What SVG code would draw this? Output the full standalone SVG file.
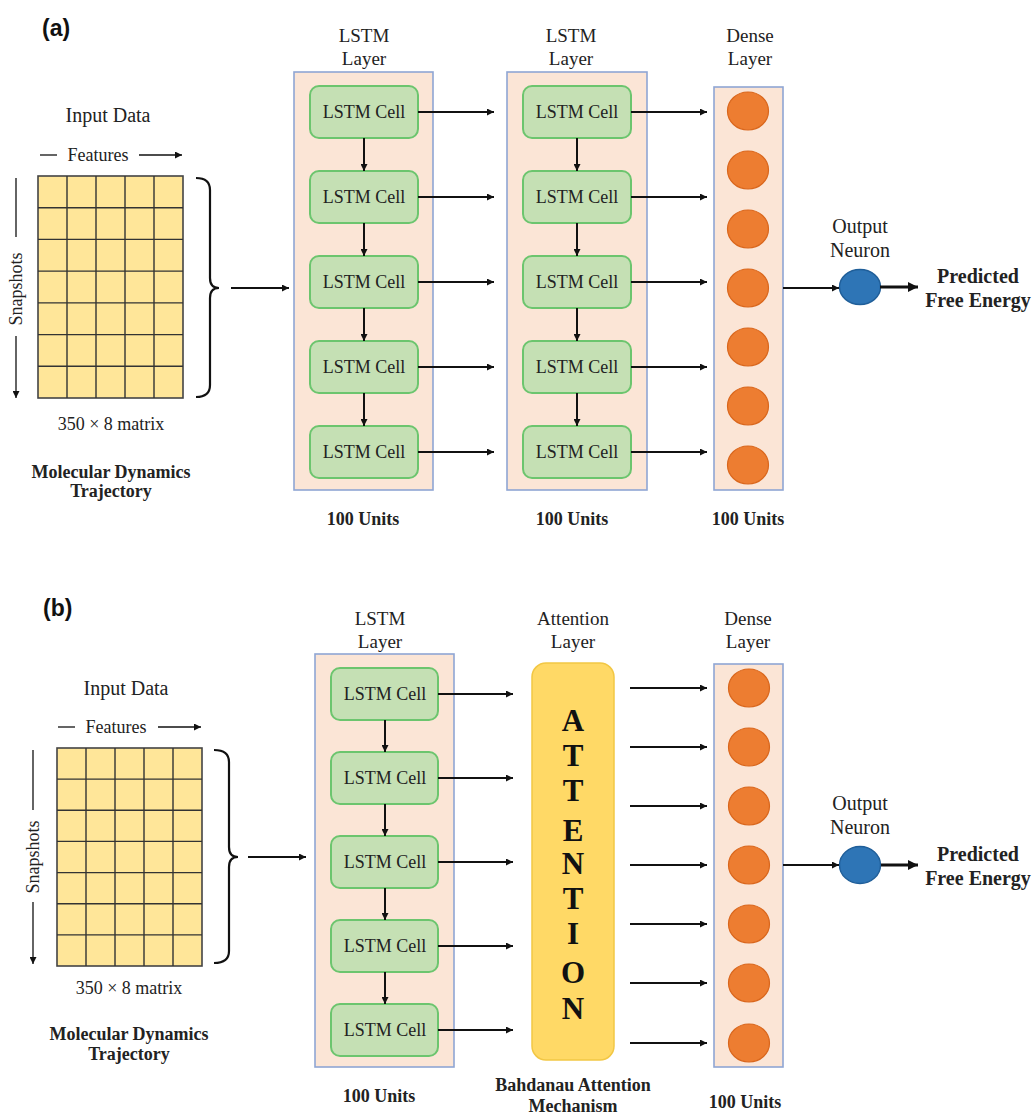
<svg xmlns="http://www.w3.org/2000/svg" width="1033" height="1119" viewBox="0 0 1033 1119">
<style>
.t{font-family:"Liberation Serif","Times New Roman",serif;fill:#222;text-anchor:middle}
.r{font-size:19px}
.r2{font-size:20px}
.b{font-size:18px;font-weight:bold}
.p{font-size:20px;font-weight:bold}
.c{font-size:18px;fill:#222}
.lbl{font-family:"Liberation Sans",Arial,sans-serif;font-size:23px;font-weight:bold;fill:#111}
.layer{fill:#FBE5D6;stroke:#8FA6D4;stroke-width:1.6}
.cell{fill:#C5E0B4;stroke:#6CC56E;stroke-width:2}
.mat{fill:#FFE699;stroke:#444;stroke-width:1.6}
.grid{stroke:#333;stroke-width:1.4}
.neu{fill:#ED7D31;stroke:#D9661C;stroke-width:1.2}
.out{fill:#2E75B6;stroke:#1F5E99;stroke-width:1.4}
.att{fill:#FFD966;stroke:#F2C744;stroke-width:1.5}
.ln{stroke:#111;stroke-width:2;fill:none}
.th{stroke:#111;stroke-width:3;fill:none}
.br{stroke:#111;stroke-width:2.2;fill:none}
.al{font-family:"Liberation Serif","Times New Roman",serif;font-size:31px;font-weight:bold;fill:#111;text-anchor:middle}
</style>
<defs>
<marker id="ah" viewBox="0 0 10 10" refX="10" refY="5" markerWidth="8" markerHeight="7" markerUnits="userSpaceOnUse" orient="auto"><path d="M0,0 L10,5 L0,10 z" fill="#111"/></marker>
<marker id="ahb" viewBox="0 0 10 10" refX="10" refY="5" markerWidth="12" markerHeight="10" markerUnits="userSpaceOnUse" orient="auto"><path d="M0,0 L10,5 L0,10 z" fill="#111"/></marker>
</defs>
<rect width="1033" height="1119" fill="#fff"/>

<!-- ================= (a) ================= -->
<text class="lbl" x="42" y="36">(a)</text>

<g id="a-input">
<text class="t r2" x="108" y="122">Input Data</text>
<line class="ln" x1="40" y1="155" x2="57" y2="155" style="stroke-width:1.3"/>
<text class="t c" x="98" y="161">Features</text>
<line class="ln" x1="139" y1="155" x2="182" y2="155" style="stroke-width:1.3" marker-end="url(#ah)"/>
<line class="ln" x1="16" y1="178" x2="16" y2="237" style="stroke-width:1.3"/>
<text class="t c" x="0" y="0" transform="translate(22,289) rotate(-90)">Snapshots</text>
<line class="ln" x1="16" y1="336" x2="16" y2="398" style="stroke-width:1.3" marker-end="url(#ah)"/>
<rect class="mat" x="38" y="176" width="145" height="222"/>
<path class="grid" d="M67,176V398M96,176V398M125,176V398M154,176V398M38,207.7H183M38,239.4H183M38,271.1H183M38,302.9H183M38,334.6H183M38,366.3H183"/>
<path class="br" d="M196,178 Q210,178 210,190 L210,278 Q210,288 219,288 Q210,288 210,298 L210,385 Q210,397 196,397"/>
<text class="t c" x="111" y="430">350 × 8 matrix</text>
<text class="t b" x="111" y="478">Molecular Dynamics</text>
<text class="t b" x="111" y="497">Trajectory</text>
</g>

<g id="a-lstm1">
<text class="t r" x="364" y="42">LSTM</text>
<text class="t r" x="364" y="65">Layer</text>
<rect class="layer" x="294" y="72" width="139" height="418"/>
<rect class="cell" x="310" y="86" width="108" height="52" rx="9"/>
<rect class="cell" x="310" y="171" width="108" height="52" rx="9"/>
<rect class="cell" x="310" y="256" width="108" height="52" rx="9"/>
<rect class="cell" x="310" y="341" width="108" height="52" rx="9"/>
<rect class="cell" x="310" y="426" width="108" height="52" rx="9"/>
<text class="t c" x="364" y="118">LSTM Cell</text>
<text class="t c" x="364" y="203">LSTM Cell</text>
<text class="t c" x="364" y="288">LSTM Cell</text>
<text class="t c" x="364" y="373">LSTM Cell</text>
<text class="t c" x="364" y="458">LSTM Cell</text>
<text class="t b" x="363" y="525">100 Units</text>
</g>

<g id="a-lstm2">
<text class="t r" x="571" y="42">LSTM</text>
<text class="t r" x="571" y="65">Layer</text>
<rect class="layer" x="507" y="72" width="140" height="418"/>
<rect class="cell" x="523" y="86" width="108" height="52" rx="9"/>
<rect class="cell" x="523" y="171" width="108" height="52" rx="9"/>
<rect class="cell" x="523" y="256" width="108" height="52" rx="9"/>
<rect class="cell" x="523" y="341" width="108" height="52" rx="9"/>
<rect class="cell" x="523" y="426" width="108" height="52" rx="9"/>
<text class="t c" x="577" y="118">LSTM Cell</text>
<text class="t c" x="577" y="203">LSTM Cell</text>
<text class="t c" x="577" y="288">LSTM Cell</text>
<text class="t c" x="577" y="373">LSTM Cell</text>
<text class="t c" x="577" y="458">LSTM Cell</text>
<text class="t b" x="572" y="525">100 Units</text>
</g>

<g id="a-dense">
<text class="t r" x="750" y="42">Dense</text>
<text class="t r" x="750" y="65">Layer</text>
<rect class="layer" x="714" y="87" width="69" height="403"/>
<ellipse class="neu" cx="748" cy="111" rx="20.5" ry="19"/>
<ellipse class="neu" cx="748" cy="170" rx="20.5" ry="19"/>
<ellipse class="neu" cx="748" cy="229" rx="20.5" ry="19"/>
<ellipse class="neu" cx="748" cy="288" rx="20.5" ry="19"/>
<ellipse class="neu" cx="748" cy="347" rx="20.5" ry="19"/>
<ellipse class="neu" cx="748" cy="406" rx="20.5" ry="19"/>
<ellipse class="neu" cx="748" cy="465" rx="20.5" ry="19"/>
<text class="t b" x="748" y="525">100 Units</text>
</g>

<g id="a-output">
<text class="t r2" x="860" y="233">Output</text>
<text class="t r2" x="860" y="257">Neuron</text>
<ellipse class="out" cx="860" cy="287" rx="20.5" ry="17.5"/>
</g>

<g id="a-result">
<text class="t p" x="978" y="283">Predicted</text>
<text class="t p" x="978" y="307">Free Energy</text>
</g>

<g id="a-connectors">
<line class="ln" x1="231" y1="288" x2="289" y2="288" marker-end="url(#ah)"/>
<line class="ln" x1="364" y1="138" x2="364" y2="171" marker-end="url(#ah)"/>
<line class="ln" x1="364" y1="223" x2="364" y2="256" marker-end="url(#ah)"/>
<line class="ln" x1="364" y1="308" x2="364" y2="341" marker-end="url(#ah)"/>
<line class="ln" x1="364" y1="393" x2="364" y2="426" marker-end="url(#ah)"/>
<line class="ln" x1="577" y1="138" x2="577" y2="171" marker-end="url(#ah)"/>
<line class="ln" x1="577" y1="223" x2="577" y2="256" marker-end="url(#ah)"/>
<line class="ln" x1="577" y1="308" x2="577" y2="341" marker-end="url(#ah)"/>
<line class="ln" x1="577" y1="393" x2="577" y2="426" marker-end="url(#ah)"/>
<line class="ln" x1="418" y1="112" x2="494" y2="112" marker-end="url(#ah)"/>
<line class="ln" x1="418" y1="197" x2="494" y2="197" marker-end="url(#ah)"/>
<line class="ln" x1="418" y1="282" x2="494" y2="282" marker-end="url(#ah)"/>
<line class="ln" x1="418" y1="367" x2="494" y2="367" marker-end="url(#ah)"/>
<line class="ln" x1="418" y1="452" x2="494" y2="452" marker-end="url(#ah)"/>
<line class="ln" x1="631" y1="112" x2="707" y2="112" marker-end="url(#ah)"/>
<line class="ln" x1="631" y1="197" x2="707" y2="197" marker-end="url(#ah)"/>
<line class="ln" x1="631" y1="282" x2="707" y2="282" marker-end="url(#ah)"/>
<line class="ln" x1="631" y1="367" x2="707" y2="367" marker-end="url(#ah)"/>
<line class="ln" x1="631" y1="452" x2="707" y2="452" marker-end="url(#ah)"/>
<line class="ln" x1="783" y1="288" x2="839" y2="288" marker-end="url(#ah)"/>
<line class="th" x1="880" y1="287" x2="918" y2="287" marker-end="url(#ahb)"/>
</g>

<!-- ================= (b) ================= -->
<text class="lbl" x="43" y="616">(b)</text>

<g id="b-input">
<text class="t r2" x="126" y="695">Input Data</text>
<line class="ln" x1="58" y1="727" x2="75" y2="727" style="stroke-width:1.3"/>
<text class="t c" x="116" y="733">Features</text>
<line class="ln" x1="158" y1="727" x2="201" y2="727" style="stroke-width:1.3" marker-end="url(#ah)"/>
<line class="ln" x1="33" y1="750" x2="33" y2="810" style="stroke-width:1.3"/>
<text class="t c" x="0" y="0" transform="translate(39,857) rotate(-90)">Snapshots</text>
<line class="ln" x1="33" y1="902" x2="33" y2="964" style="stroke-width:1.3" marker-end="url(#ah)"/>
<rect class="mat" x="57" y="748" width="145" height="218"/>
<path class="grid" d="M86,748V966M115,748V966M144,748V966M173,748V966M57,779.1H202M57,810.3H202M57,841.4H202M57,872.6H202M57,903.7H202M57,934.9H202"/>
<path class="br" d="M214,750 Q229,750 229,762 L229,847 Q229,857 238,857 Q229,857 229,867 L229,951 Q229,963 214,963"/>
<text class="t c" x="129" y="994">350 × 8 matrix</text>
<text class="t b" x="129" y="1040">Molecular Dynamics</text>
<text class="t b" x="129" y="1060">Trajectory</text>
</g>

<g id="b-lstm">
<text class="t r" x="380" y="625">LSTM</text>
<text class="t r" x="380" y="648">Layer</text>
<rect class="layer" x="315" y="654" width="139" height="413"/>
<rect class="cell" x="331" y="668" width="107" height="52" rx="9"/>
<rect class="cell" x="331" y="752" width="107" height="52" rx="9"/>
<rect class="cell" x="331" y="836" width="107" height="52" rx="9"/>
<rect class="cell" x="331" y="920" width="107" height="52" rx="9"/>
<rect class="cell" x="331" y="1004" width="107" height="52" rx="9"/>
<text class="t c" x="385" y="700">LSTM Cell</text>
<text class="t c" x="385" y="784">LSTM Cell</text>
<text class="t c" x="385" y="868">LSTM Cell</text>
<text class="t c" x="385" y="952">LSTM Cell</text>
<text class="t c" x="385" y="1036">LSTM Cell</text>
<text class="t b" x="379" y="1102">100 Units</text>
</g>

<g id="b-attention">
<text class="t r" x="573" y="625">Attention</text>
<text class="t r" x="573" y="648">Layer</text>
<rect class="att" x="532" y="663" width="82" height="397" rx="14"/>
<text class="al" x="573" y="731">A</text>
<text class="al" x="573" y="766">T</text>
<text class="al" x="573" y="801">T</text>
<text class="al" x="573" y="841">E</text>
<text class="al" x="573" y="874">N</text>
<text class="al" x="573" y="909">T</text>
<text class="al" x="573" y="944">I</text>
<text class="al" x="573" y="983">O</text>
<text class="al" x="573" y="1019">N</text>
<text class="t b" x="573" y="1091">Bahdanau Attention</text>
<text class="t b" x="573" y="1112">Mechanism</text>
</g>

<g id="b-dense">
<text class="t r" x="748" y="625">Dense</text>
<text class="t r" x="748" y="648">Layer</text>
<rect class="layer" x="714" y="664" width="69" height="403"/>
<ellipse class="neu" cx="749" cy="688" rx="20.5" ry="19"/>
<ellipse class="neu" cx="749" cy="747" rx="20.5" ry="19"/>
<ellipse class="neu" cx="749" cy="806" rx="20.5" ry="19"/>
<ellipse class="neu" cx="749" cy="865" rx="20.5" ry="19"/>
<ellipse class="neu" cx="749" cy="924" rx="20.5" ry="19"/>
<ellipse class="neu" cx="749" cy="983" rx="20.5" ry="19"/>
<ellipse class="neu" cx="749" cy="1043" rx="20.5" ry="19"/>
<text class="t b" x="745" y="1108">100 Units</text>
</g>

<g id="b-output">
<text class="t r2" x="860" y="810">Output</text>
<text class="t r2" x="860" y="834">Neuron</text>
<ellipse class="out" cx="860" cy="865" rx="20.5" ry="18.5"/>
</g>

<g id="b-result">
<text class="t p" x="978" y="861">Predicted</text>
<text class="t p" x="978" y="885">Free Energy</text>
</g>

<g id="b-connectors">
<line class="ln" x1="248" y1="857" x2="306" y2="857" marker-end="url(#ah)"/>
<line class="ln" x1="385" y1="720" x2="385" y2="752" marker-end="url(#ah)"/>
<line class="ln" x1="385" y1="804" x2="385" y2="836" marker-end="url(#ah)"/>
<line class="ln" x1="385" y1="888" x2="385" y2="920" marker-end="url(#ah)"/>
<line class="ln" x1="385" y1="972" x2="385" y2="1004" marker-end="url(#ah)"/>
<line class="ln" x1="438" y1="694" x2="513" y2="694" marker-end="url(#ah)"/>
<line class="ln" x1="438" y1="778" x2="513" y2="778" marker-end="url(#ah)"/>
<line class="ln" x1="438" y1="862" x2="513" y2="862" marker-end="url(#ah)"/>
<line class="ln" x1="438" y1="946" x2="513" y2="946" marker-end="url(#ah)"/>
<line class="ln" x1="438" y1="1030" x2="513" y2="1030" marker-end="url(#ah)"/>
<line class="ln" x1="630" y1="688" x2="707" y2="688" marker-end="url(#ah)"/>
<line class="ln" x1="630" y1="747" x2="707" y2="747" marker-end="url(#ah)"/>
<line class="ln" x1="630" y1="806" x2="707" y2="806" marker-end="url(#ah)"/>
<line class="ln" x1="630" y1="865" x2="707" y2="865" marker-end="url(#ah)"/>
<line class="ln" x1="630" y1="924" x2="707" y2="924" marker-end="url(#ah)"/>
<line class="ln" x1="630" y1="983" x2="707" y2="983" marker-end="url(#ah)"/>
<line class="ln" x1="630" y1="1043" x2="707" y2="1043" marker-end="url(#ah)"/>
<line class="ln" x1="783" y1="865" x2="839" y2="865" marker-end="url(#ah)"/>
<line class="th" x1="881" y1="865" x2="918" y2="865" marker-end="url(#ahb)"/>
</g>
</svg>
